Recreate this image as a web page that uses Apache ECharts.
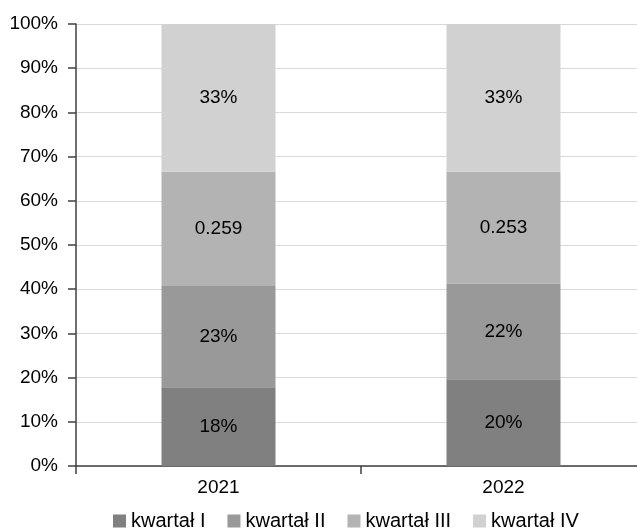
<!DOCTYPE html>
<html>
<head>
<meta charset="utf-8">
<script src="https://cdn.jsdelivr.net/npm/echarts@6/dist/echarts.min.js"></script>
<style>
html,body{margin:0;padding:0;background:#fff;overflow:hidden;width:637px;height:528px;}
#c{width:646px;height:528px;}
</style>
</head>
<body>
<div id="c"></div>
<script>
const categories = ['2021', '2022'];
const seriesNames = ['kwartał I', 'kwartał II', 'kwartał III', 'kwartał IV'];
const q1 = [0.178, 0.196];
const q2 = [0.229, 0.217];
const q3 = [0.259, 0.253];
const q4 = [0.334, 0.334];
const yTicks = [0, 0.1, 0.2, 0.3, 0.4, 0.5, 0.6, 0.7, 0.8, 0.9, 1];

const FONT = '"Liberation Sans", Arial, sans-serif';
const colors = ['#808080', '#999999', '#b3b3b3', '#d1d1d1'];
const pct = p => Math.round(p.value * 100) + '%';
const raw = p => String(p.value);

const data = [q1, q2, q3, q4];
const formatters = [pct, pct, raw, pct];

const chart = echarts.init(document.getElementById('c'));
chart.setOption({
  animation: false,
  color: colors,
  textStyle: { fontFamily: FONT },
  grid: { left: 76, top: 24, right: 0, bottom: 62, containLabel: false },
  legend: {
    left: 108, top: 506,
    itemWidth: 13, itemHeight: 13, itemGap: 22,
    icon: 'rect',
    textStyle: { fontFamily: FONT, fontSize: 20, color: '#000' },
    data: seriesNames
  },
  xAxis: {
    type: 'category',
    data: categories,
    axisLine: { lineStyle: { color: '#404040', width: 1.5 } },
    axisTick: { show: true, length: 8, lineStyle: { color: '#404040', width: 1.5 } },
    axisLabel: { fontFamily: FONT, fontSize: 19, color: '#000', margin: 12 }
  },
  yAxis: {
    type: 'value',
    min: 0, max: 1, interval: 0.1,
    axisLine: { show: true, lineStyle: { color: '#404040', width: 1.5 } },
    axisTick: { show: true, length: 8, lineStyle: { color: '#404040', width: 1.5 } },
    splitLine: { lineStyle: { color: '#d9d9d9', width: 1 } },
    axisLabel: {
      fontFamily: FONT, fontSize: 19, color: '#000', margin: 18,
      formatter: v => {
        const t = yTicks.find(x => Math.abs(x - v) < 1e-9);
        return Math.round((t === undefined ? v : t) * 100) + '%';
      }
    }
  },
  series: data.map((d, i) => ({
    name: seriesNames[i],
    type: 'bar',
    stack: 'total',
    barCategoryGap: '60%',
    data: d,
    label: {
      show: true, position: 'inside',
      fontFamily: FONT, fontSize: 19, color: '#000',
      formatter: formatters[i]
    }
  }))
});
</script>
</body>
</html>
